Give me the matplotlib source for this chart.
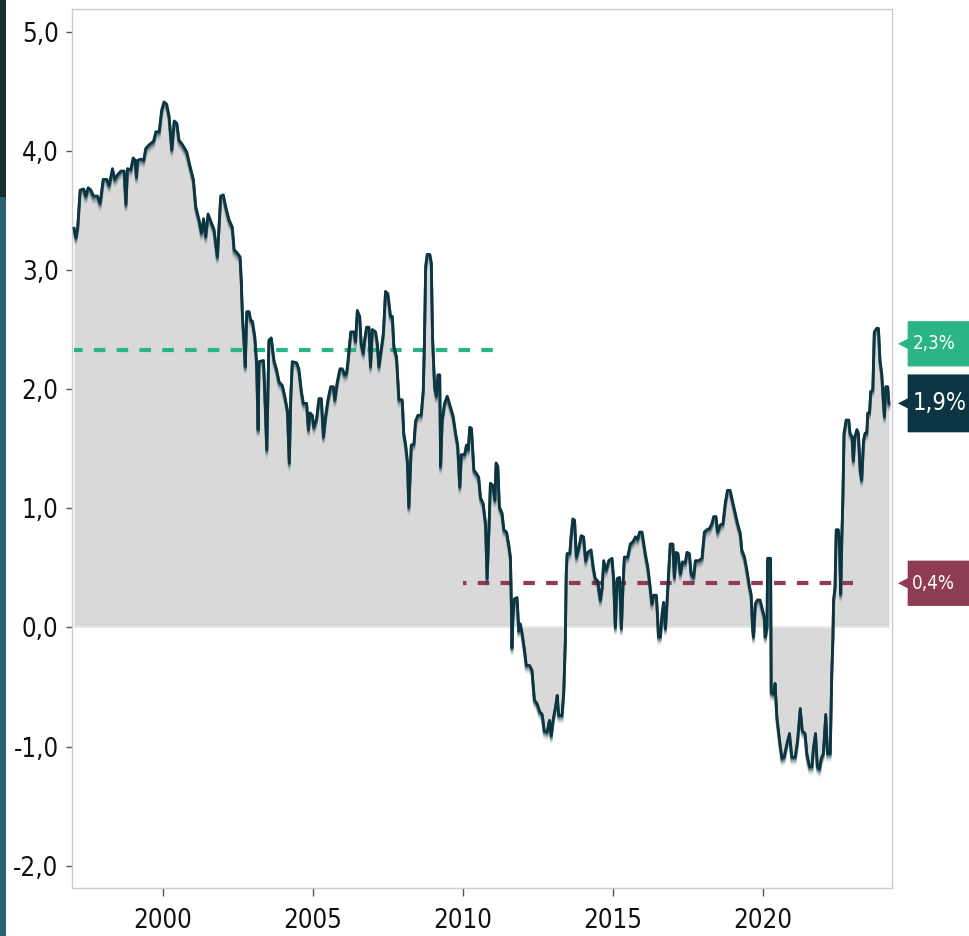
import matplotlib
matplotlib.use("Agg")
import matplotlib.pyplot as plt
import matplotlib.patheffects as pe
from matplotlib.patches import Polygon, Rectangle
from matplotlib.transforms import blended_transform_factory

plt.rcParams['font.family'] = ['DejaVu Sans']
plt.rcParams['font.stretch'] = 'condensed'

# serie (año decimal, valor en %)
years = [
    1997.03, 1997.09, 1997.15, 1997.23, 1997.35, 1997.42, 1997.50, 1997.59, 1997.68, 1997.81,
    1997.90, 1998.00, 1998.12, 1998.20, 1998.31, 1998.39, 1998.48, 1998.59, 1998.70, 1998.76,
    1998.81, 1998.92, 1999.00, 1999.07, 1999.11, 1999.15, 1999.26, 1999.35, 1999.42, 1999.53,
    1999.68, 1999.76, 1999.87, 1999.95, 2000.03, 2000.12, 2000.20, 2000.29, 2000.37, 2000.46,
    2000.53, 2000.65, 2000.79, 2000.90, 2001.01, 2001.09, 2001.20, 2001.28, 2001.35, 2001.42,
    2001.50, 2001.59, 2001.70, 2001.81, 2001.92, 2002.01, 2002.09, 2002.20, 2002.31, 2002.37,
    2002.48, 2002.57, 2002.61, 2002.65, 2002.70, 2002.74, 2002.79, 2002.87, 2002.92, 2002.98,
    2003.06, 2003.12, 2003.17, 2003.20, 2003.35, 2003.39, 2003.46, 2003.53, 2003.61, 2003.70,
    2003.79, 2003.87, 2003.98, 2004.06, 2004.15, 2004.21, 2004.26, 2004.31, 2004.46, 2004.53,
    2004.61, 2004.68, 2004.79, 2004.85, 2004.90, 2004.98, 2005.03, 2005.12, 2005.20, 2005.28,
    2005.35, 2005.42, 2005.50, 2005.59, 2005.68, 2005.73, 2005.81, 2005.90, 2005.98, 2006.06,
    2006.12, 2006.17, 2006.26, 2006.37, 2006.42, 2006.48, 2006.56, 2006.61, 2006.68, 2006.72,
    2006.79, 2006.87, 2006.92, 2006.98, 2007.09, 2007.15, 2007.20, 2007.26, 2007.35, 2007.42,
    2007.50, 2007.59, 2007.65, 2007.70, 2007.79, 2007.87, 2007.98, 2008.03, 2008.09, 2008.15,
    2008.20, 2008.28, 2008.37, 2008.42, 2008.50, 2008.61, 2008.68, 2008.72, 2008.76, 2008.81,
    2008.90, 2008.95, 2008.99, 2009.06, 2009.12, 2009.17, 2009.23, 2009.26, 2009.31, 2009.39,
    2009.48, 2009.59, 2009.68, 2009.76, 2009.83, 2009.90, 2009.95, 2010.06, 2010.12, 2010.18,
    2010.23, 2010.29, 2010.37, 2010.46, 2010.53, 2010.59, 2010.68, 2010.76, 2010.81, 2010.87,
    2010.92, 2011.01, 2011.07, 2011.11, 2011.17, 2011.22, 2011.31, 2011.37, 2011.46, 2011.53,
    2011.59, 2011.62, 2011.64, 2011.67, 2011.72, 2011.81, 2011.87, 2011.92, 2011.98, 2012.06,
    2012.12, 2012.23, 2012.31, 2012.39, 2012.48, 2012.57, 2012.65, 2012.72, 2012.81, 2012.89,
    2012.95, 2013.01, 2013.09, 2013.15, 2013.20, 2013.31, 2013.37, 2013.42, 2013.45, 2013.48,
    2013.57, 2013.61, 2013.67, 2013.73, 2013.79, 2013.87, 2013.95, 2014.03, 2014.10, 2014.17,
    2014.28, 2014.35, 2014.42, 2014.50, 2014.59, 2014.65, 2014.70, 2014.78, 2014.87, 2014.98,
    2015.03, 2015.09, 2015.15, 2015.23, 2015.29, 2015.35, 2015.39, 2015.50, 2015.59, 2015.68,
    2015.76, 2015.83, 2015.90, 2015.98, 2016.03, 2016.09, 2016.17, 2016.23, 2016.31, 2016.37,
    2016.46, 2016.50, 2016.53, 2016.59, 2016.65, 2016.70, 2016.76, 2016.81, 2016.87, 2016.92,
    2017.01, 2017.06, 2017.12, 2017.18, 2017.26, 2017.33, 2017.42, 2017.48, 2017.56, 2017.62,
    2017.70, 2017.76, 2017.87, 2017.98, 2018.06, 2018.15, 2018.23, 2018.31, 2018.37, 2018.45,
    2018.50, 2018.59, 2018.68, 2018.76, 2018.83, 2018.92, 2019.01, 2019.09, 2019.17, 2019.26,
    2019.31, 2019.40, 2019.48, 2019.56, 2019.62, 2019.67, 2019.70, 2019.76, 2019.83, 2019.92,
    2019.98, 2020.06, 2020.09, 2020.15, 2020.17, 2020.27, 2020.29, 2020.37, 2020.42, 2020.48,
    2020.57, 2020.65, 2020.72, 2020.81, 2020.90, 2020.98, 2021.09, 2021.17, 2021.26, 2021.33,
    2021.42, 2021.48, 2021.57, 2021.65, 2021.70, 2021.77, 2021.83, 2021.90, 2021.96, 2022.03,
    2022.11, 2022.17, 2022.26, 2022.31, 2022.35, 2022.37, 2022.42, 2022.46, 2022.53, 2022.57,
    2022.61, 2022.65, 2022.68, 2022.72, 2022.79, 2022.88, 2022.92, 2022.99, 2023.03, 2023.08,
    2023.15, 2023.20, 2023.26, 2023.31, 2023.37, 2023.42, 2023.48, 2023.51, 2023.57, 2023.61,
    2023.68, 2023.73, 2023.81, 2023.87, 2023.92, 2023.98, 2024.03, 2024.07, 2024.11, 2024.18,
    2024.22,
]
values = [
    3.35, 3.27, 3.36, 3.67, 3.68, 3.62, 3.69, 3.67, 3.62, 3.62,
    3.56, 3.76, 3.76, 3.71, 3.85, 3.76, 3.80, 3.83, 3.83, 3.55,
    3.85, 3.84, 3.94, 3.92, 3.78, 3.92, 3.93, 3.92, 4.02, 4.05,
    4.08, 4.16, 4.16, 4.34, 4.41, 4.39, 4.29, 4.01, 4.25, 4.23,
    4.09, 4.05, 3.99, 3.87, 3.76, 3.53, 3.42, 3.31, 3.43, 3.28,
    3.47, 3.41, 3.34, 3.11, 3.62, 3.63, 3.53, 3.42, 3.36, 3.17,
    3.14, 3.11, 2.90, 2.60, 2.40, 2.19, 2.65, 2.65, 2.58, 2.57,
    2.44, 2.22, 1.66, 2.23, 2.24, 1.99, 1.49, 2.41, 2.43, 2.24,
    2.16, 2.06, 2.03, 1.94, 1.82, 1.38, 1.94, 2.23, 2.22, 2.17,
    1.99, 1.88, 1.88, 1.66, 1.80, 1.78, 1.68, 1.75, 1.92, 1.92,
    1.60, 1.77, 1.91, 2.02, 2.02, 1.91, 2.06, 2.17, 2.17, 2.12,
    2.13, 2.24, 2.48, 2.48, 2.40, 2.66, 2.61, 2.38, 2.30, 2.41,
    2.52, 2.52, 2.19, 2.50, 2.48, 2.38, 2.19, 2.30, 2.47, 2.82,
    2.80, 2.61, 2.61, 2.36, 2.27, 1.91, 1.91, 1.63, 1.54, 1.40,
    1.01, 1.53, 1.54, 1.73, 1.78, 1.78, 1.99, 2.41, 3.03, 3.13,
    3.13, 3.06, 2.44, 2.02, 1.94, 2.12, 2.12, 1.35, 1.74, 1.88,
    1.94, 1.85, 1.77, 1.63, 1.53, 1.18, 1.45, 1.45, 1.53, 1.49,
    1.68, 1.67, 1.32, 1.29, 1.26, 1.09, 1.04, 0.87, 0.41, 0.82,
    1.21, 1.19, 1.07, 1.38, 1.35, 1.01, 0.96, 0.82, 0.80, 0.70,
    0.59, 0.20, -0.17, 0.09, 0.24, 0.25, -0.03, 0.03, -0.05, -0.19,
    -0.32, -0.32, -0.36, -0.61, -0.64, -0.71, -0.73, -0.87, -0.88, -0.78,
    -0.91, -0.78, -0.67, -0.57, -0.74, -0.74, -0.53, -0.11, 0.45, 0.62,
    0.62, 0.76, 0.91, 0.90, 0.59, 0.67, 0.77, 0.76, 0.56, 0.63,
    0.65, 0.51, 0.41, 0.39, 0.23, 0.34, 0.56, 0.48, 0.56, 0.58,
    0.42, 0.00, 0.41, 0.42, -0.01, 0.39, 0.59, 0.59, 0.70, 0.72,
    0.76, 0.74, 0.80, 0.80, 0.72, 0.62, 0.51, 0.39, 0.20, 0.27,
    0.27, 0.09, -0.08, -0.08, 0.12, 0.21, -0.01, 0.20, 0.48, 0.70,
    0.70, 0.42, 0.63, 0.62, 0.45, 0.55, 0.54, 0.63, 0.62, 0.45,
    0.42, 0.56, 0.56, 0.58, 0.80, 0.82, 0.83, 0.87, 0.93, 0.93,
    0.80, 0.86, 0.87, 1.05, 1.15, 1.15, 1.05, 0.96, 0.87, 0.79,
    0.65, 0.59, 0.48, 0.35, 0.28, 0.00, -0.08, 0.20, 0.23, 0.23,
    0.17, 0.09, -0.08, 0.00, 0.58, 0.58, -0.55, -0.56, -0.47, -0.75,
    -0.95, -1.10, -1.09, -0.98, -0.89, -1.09, -1.09, -0.95, -0.68, -0.87,
    -0.89, -1.06, -1.17, -1.17, -1.01, -0.89, -1.17, -1.19, -1.10, -1.06,
    -0.73, -1.06, -1.06, -0.39, -0.08, 0.23, 0.34, 0.82, 0.82, 0.70,
    0.28, 0.79, 1.07, 1.63, 1.74, 1.74, 1.63, 1.60, 1.40, 1.60,
    1.66, 1.63, 1.32, 1.24, 1.57, 1.63, 1.63, 1.80, 1.80, 1.98,
    1.99, 2.48, 2.51, 2.51, 2.24, 2.13, 1.91, 1.77, 2.02, 2.02,
    1.88,
]

# promedios por periodo
avg_high = 2.33
avg_high_span = [1997.03, 2011.0]
avg_low = 0.37
avg_low_span = [2010.0, 2023.03]

xticks = [2000, 2005, 2010, 2015, 2020]
yticks = [-2, -1, 0, 1, 2, 3, 4, 5]

dark = '#0b3540'
green = '#2bb584'
red = '#8e3c54'

fig = plt.figure(figsize=(9.69, 9.36), dpi=100)
ax = fig.add_axes([0.074, 0.0516, 0.8462, 0.9388])

ax.fill_between(years, values, 0, color='#d9d9d9', lw=0, zorder=1)
ax.plot([years[0], years[-1]], [0, 0], color='#e8e8e8', lw=1.2, zorder=2)

shadow = [pe.SimpleLineShadow(offset=(0, -k), shadow_color=dark, alpha=a)
          for k, a in [(5, 0.06), (4, 0.1), (3, 0.16), (2, 0.28), (1, 0.45)]]
ax.plot(years, values, color=dark, lw=2.0, zorder=4,
        path_effects=shadow + [pe.Normal()])

lw_d = 3.0
ax.plot(avg_high_span, [avg_high, avg_high], color=green, lw=lw_d,
        ls=(0.7, (2.77, 2.7)), zorder=3)
ax.plot(avg_low_span, [avg_low, avg_low], color=red, lw=lw_d,
        ls=(1.93, (2.77, 2.7)), zorder=3)

ax.set_xlim(1996.95, 2024.31)
ax.set_ylim(-2.185, 5.19)
ax.set_xticks(xticks)
ax.set_xticklabels([str(t) for t in xticks])
ax.set_yticks(yticks)
ax.set_yticklabels([f"{t:.1f}".replace('.', ',') for t in yticks])
ax.tick_params(axis='x', length=5.5, width=1, color='#555555', pad=9,
               labelsize=18.5, labelcolor='#111111')
ax.tick_params(axis='y', length=4.5, width=1, color='#555555', pad=5,
               labelsize=18.5, labelcolor='#111111')
for s in ax.spines.values():
    s.set_color('#cccccc')
    s.set_linewidth(1)

# etiquetas a la derecha
tr = blended_transform_factory(fig.transFigure, ax.transData)
labels = [
    (avg_high + 0.05, f"{avg_high:.1f}%".replace('.', ','), green, 0.19, 13.5),
    (values[-1], f"{values[-1]:.1f}%".replace('.', ','), dark, 0.243, 17),
    (avg_low, f"{avg_low:.1f}%".replace('.', ','), red, 0.19, 13.5),
]
x_tip, x_left, x_right = 0.9267, 0.9367, 1.01
for yc, txt, col, hh, fs in labels:
    notch = 0.042
    poly = Polygon([(x_tip, yc), (x_left, yc + notch), (x_left, yc + hh),
                    (x_right, yc + hh), (x_right, yc - hh), (x_left, yc - hh),
                    (x_left, yc - notch)], closed=True, transform=tr,
                   facecolor=col, edgecolor='none', clip_on=False, zorder=5)
    ax.add_patch(poly)
    ax.text(0.9415, yc, txt, transform=tr, color='white', fontsize=fs,
            ha='left', va='center', zorder=6)

# barra lateral izquierda
fig.patches.append(Rectangle((0, 0.7895), 0.0062, 0.2105, transform=fig.transFigure,
                             facecolor='#172d36', edgecolor='none'))
fig.patches.append(Rectangle((0, 0), 0.0062, 0.7895, transform=fig.transFigure,
                             facecolor='#2a6170', edgecolor='none'))

fig.savefig("out.png", dpi=100)
